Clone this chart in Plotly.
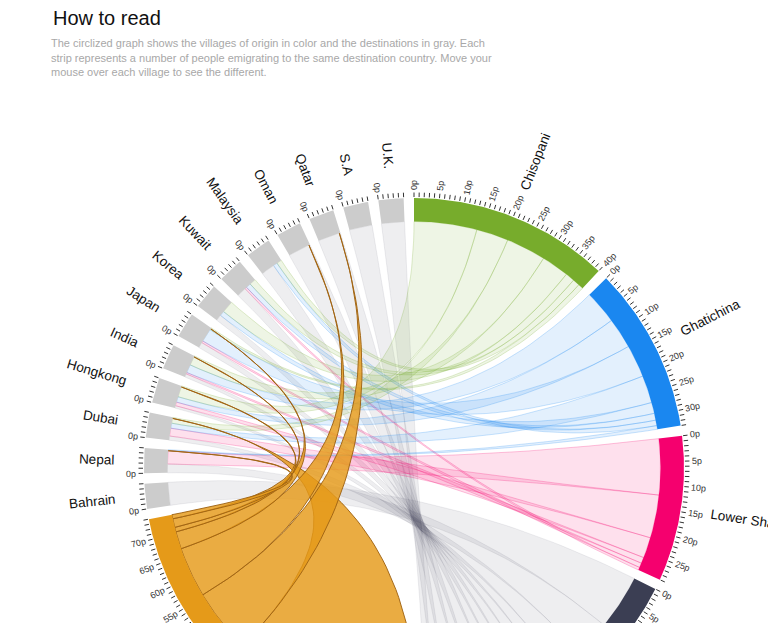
import math
import numpy as np
import plotly.graph_objects as go

# ---------------- data ----------------
title_text = "How to read"
subtitle_lines = [
    "The circlized graph shows the villages of origin in color and the destinations in gray. Each",
    "strip represents a number of people emigrating to the same destination country. Move your",
    "mouse over each village to see the different.",
]

villages = ["Chisopani", "Ghatichina", "Lower Shankarpur", "Village 4", "Village 5"]
village_colors = ["#77ac2c", "#1a87f0", "#f5006e", "#3b3e53", "#e59a19"]
highlighted_village = "Village 5"

destinations = ["Bahrain", "Nepal", "Dubai", "Hongkong", "India", "Japan", "Korea",
                "Kuwait", "Malaysia", "Oman", "Qatar", "S.A", "U.K."]
destination_sizes = [5, 5, 5, 5, 5, 5, 5, 5, 5, 5, 5, 5, 5]

# flows of each village, in the order they sit along the village arc
chisopani_dest = ["Hongkong", "Dubai", "India", "Korea", "Kuwait", "Malaysia", "Japan"]
chisopani_people = [13.7, 7.0, 8.7, 6.0, 2.0, 1.5, 1.1]
ghatichina_dest = ["India", "Hongkong", "Japan", "Dubai", "Korea", "Kuwait", "Malaysia", "Nepal"]
ghatichina_people = [7.3, 6.7, 7.1, 6.0, 2.4, 1.5, 1.2, 0.8]
lower_dest = ["Nepal", "Dubai", "Hongkong", "India", "Japan", "Kuwait"]
lower_people = [12.2, 9.4, 4.5, 1.3, 1.0, 0.6]
village4_dest = ["Bahrain", "Nepal", "Dubai", "Hongkong", "India", "Japan", "Korea",
                 "Kuwait", "Malaysia", "Oman", "Qatar", "S.A", "U.K."]
village4_people = [12, 8, 5, 3, 3, 3, 3, 3, 4, 3, 4, 3, 2]
village5_dest = ["Dubai", "Qatar", "Oman", "Japan", "India", "Hongkong", "Nepal"]
village5_people = [41.4, 14.0, 11.0, 3.8, 1.0, 1.9, 0.9]

flow_dest = [chisopani_dest, ghatichina_dest, lower_dest, village4_dest, village5_dest]
flow_people = [chisopani_people, ghatichina_people, lower_people, village4_people, village5_people]

# ---------------- layout constants ----------------
W, H = 768, 623
CX, CY = 414.0, 468.0
R_OUT, R_IN = 270.0, 246.5
GAP = 2.2
START = 0.0


def hex_rgb(h):
    h = h.lstrip("#")
    return tuple(int(h[i:i + 2], 16) for i in (0, 2, 4))


def rgba(h, a):
    r, g, b = hex_rgb(h)
    return f"rgba({r},{g},{b},{a})"


def pt(theta_deg, r):
    t = math.radians(theta_deg)
    return CX + r * math.sin(t), CY - r * math.cos(t)


def arc_pts(a0, a1, r):
    n = max(2, int(abs(a1 - a0) * 2) + 2)
    th = np.linspace(a0, a1, n)
    return [pt(t, r) for t in th]


def bez(p0, p2, n=50):
    out = []
    for t in np.linspace(0, 1, n):
        x = (1 - t) ** 2 * p0[0] + 2 * t * (1 - t) * CX + t * t * p2[0]
        y = (1 - t) ** 2 * p0[1] + 2 * t * (1 - t) * CY + t * t * p2[1]
        out.append((x, y))
    return out


# group sizes and angles
village_sizes = [sum(p) for p in flow_people]
group_names = villages + destinations
group_sizes = village_sizes + destination_sizes
n_groups = len(group_names)
K = (360.0 - n_groups * GAP) / sum(group_sizes)
group_angles = []
a = START
for s in group_sizes:
    group_angles.append((a, a + s * K))
    a += s * K + GAP
ang = dict(zip(group_names, group_angles))

# destination end allocation
hi_idx = villages.index(highlighted_village)
dest_in = {d: [] for d in destinations}
for vi in sorted(range(len(villages)), key=lambda i: -group_angles[i][0]):
    if vi == hi_idx:
        continue
    for d, p in zip(flow_dest[vi], flow_people[vi]):
        dest_in[d].append((vi, p))
dest_end = {}
for d in destinations:
    d0, d1 = ang[d]
    tot = sum(p for _, p in dest_in[d]) or 1
    cur = d0
    for vi, p in dest_in[d]:
        w = (d1 - d0) * p / tot
        dest_end[(vi, d)] = (cur, cur + w)
        cur += w
    dest_end[(hi_idx, d)] = (d1 - 0.25, d1 - 0.25)

fig = go.Figure()


def add_poly(pts, fill, line_color="rgba(0,0,0,0)", line_width=0):
    xs = [p[0] for p in pts] + [pts[0][0]]
    ys = [p[1] for p in pts] + [pts[0][1]]
    fig.add_trace(go.Scatter(x=xs, y=ys, mode="lines", fill="toself", fillcolor=fill,
                             line=dict(color=line_color, width=line_width),
                             hoverinfo="skip", showlegend=False))


def ribbon_pts(s0, s1, t0, t1):
    pts = arc_pts(s0, s1, R_IN)
    pts += bez(pt(s1, R_IN), pt(t0, R_IN))
    if t1 > t0:
        pts += arc_pts(t0, t1, R_IN)
    pts += bez(pt(t1, R_IN), pt(s0, R_IN))
    return pts


faint_fill = {0: 0.12, 1: 0.12, 2: 0.12, 3: 0.085}
faint_line = {0: 0.33, 1: 0.33, 2: 0.33, 3: 0.12}

# ribbons: faint ones first, highlighted last
order = [i for i in range(len(villages)) if i != hi_idx][::-1] + [hi_idx]
for vi in order:
    col = village_colors[vi]
    s = ang[villages[vi]][0]
    for d, p in zip(flow_dest[vi], flow_people[vi]):
        e = s + p * K
        t0, t1 = dest_end[(vi, d)]
        pts = ribbon_pts(s, e, t0, t1)
        if vi == hi_idx:
            add_poly(pts, rgba(col, 0.82), "rgba(160,100,20,0.95)", 1)
        else:
            add_poly(pts, rgba(col, faint_fill[vi]), rgba(col, faint_line[vi]), 0.7)
        s = e

# group arcs
for gi, g in enumerate(group_names):
    a0, a1 = group_angles[gi]
    col = village_colors[gi] if gi < len(villages) else "#cccccc"
    pts = arc_pts(a0, a1, R_OUT) + arc_pts(a1, a0, R_IN)
    add_poly(pts, col)

# ticks
tx, ty = [], []
annotations = []


def char_w(c):
    table = {"i": 222, "l": 222, "j": 222, "f": 278, "t": 278, "r": 333, ".": 278, " ": 278,
             "m": 833, "w": 722, "k": 500, "c": 500, "s": 500, "v": 500, "x": 500, "y": 500, "z": 500}
    if c in table:
        return table[c]
    if c.isupper():
        return {"M": 833, "O": 778, "G": 778, "Q": 778, "L": 556, "J": 500}.get(c, 700)
    return 556


def text_w(s, size):
    return sum(char_w(c) for c in s) * size / 1000.0


def radial_label(text, theta, r_start, size, color):
    w = text_w(text, size)
    x, y = pt(theta, r_start + w / 2)
    if y - 6 > H:
        return  # entirely below the visible window
    angle = theta - 90 if theta < 180 else theta - 270
    annotations.append(dict(x=x / W, y=1 - y / H, xref="paper", yref="paper", text=text,
                            showarrow=False, textangle=angle, xanchor="center", yanchor="middle",
                            font=dict(family="Liberation Sans, Arial", size=size, color=color)))


for gi, g in enumerate(group_names):
    a0, a1 = group_angles[gi]
    size = group_sizes[gi]
    for i in range(int(math.floor(size + 1e-6)) + 1):
        th = a0 + i * K
        p1, p2 = pt(th, R_OUT + 1), pt(th, R_OUT + 5.5)
        tx += [p1[0], p2[0], None]
        ty += [p1[1], p2[1], None]
        if i % 5 == 0 and (gi < len(villages) or i == 0):
            radial_label(f"{i}p", th, R_OUT + 8, 9, "#333333")
    radial_label(g, (a0 + a1) / 2, R_OUT + 30, 13.5, "#111111")

fig.add_trace(go.Scatter(x=tx, y=ty, mode="lines", line=dict(color="#333333", width=1),
                         hoverinfo="skip", showlegend=False))

# title and subtitle
annotations.append(dict(x=51 / W, y=1 - 18 / H, xref="paper", yref="paper", text=title_text,
                        showarrow=False, xanchor="left", yanchor="middle",
                        font=dict(family="Liberation Sans, Arial", size=20, color="#111111")))
for li, line in enumerate(subtitle_lines):
    annotations.append(dict(x=49 / W, y=1 - (43 + li * 14.5) / H, xref="paper", yref="paper",
                            text=line, showarrow=False, xanchor="left", yanchor="middle",
                            font=dict(family="Liberation Sans, Arial", size=11, color="#a8a8a8")))

fig.update_layout(
    width=W, height=H, margin=dict(l=0, r=0, t=0, b=0),
    paper_bgcolor="white", plot_bgcolor="white",
    xaxis=dict(range=[0, W], visible=False, fixedrange=True),
    yaxis=dict(range=[H, 0], visible=False, fixedrange=True),
    annotations=annotations, showlegend=False,
)
fig.write_html("out.html")
